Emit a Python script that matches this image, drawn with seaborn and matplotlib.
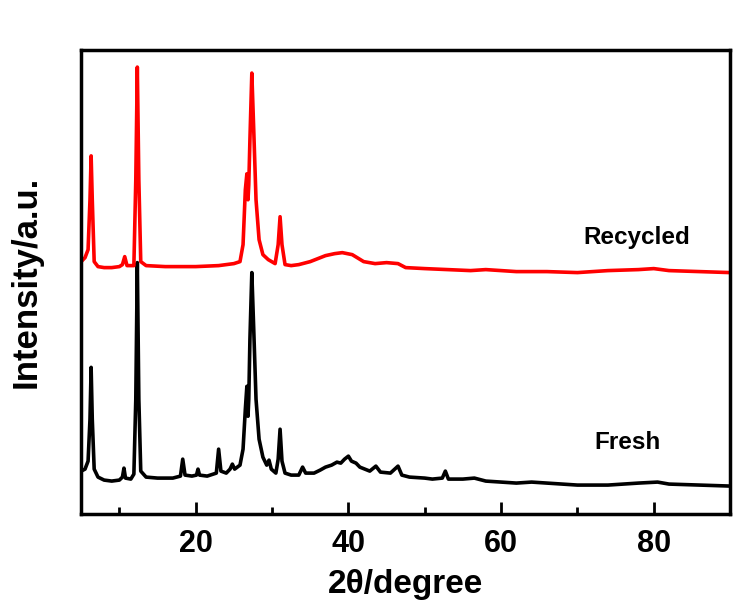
import pandas as pd

import matplotlib
matplotlib.use('AGG')
import matplotlib.pyplot as plt
from matplotlib.ticker import MultipleLocator
import seaborn as sns

sns.set_style("white", rc={"text.color": "black",
                           "axes.labelcolor": "black",
                           "xtick.color": "black",
                           "axes.edgecolor": "black"})
plt.rcParams['font.family'] = ['Liberation Sans', 'DejaVu Sans']
plt.rcParams['font.weight'] = 'bold'

# 2theta (degree) and intensity (a.u.)
fresh_2theta = [5.0, 5.5, 5.9, 6.15, 6.3, 6.45, 6.7, 7.2, 8, 9, 10, 10.4, 10.6, 10.8,
                11.5, 11.9, 12.15, 12.35, 12.55, 12.8, 13.5, 15, 17, 18.0, 18.3, 18.6,
                19.5, 20.1, 20.3, 20.5, 21.5, 22.7, 23.0, 23.3, 24.0, 24.5, 24.8, 25.1,
                25.8, 26.2, 26.5, 26.7, 26.85, 26.95, 27.1, 27.35, 27.6, 27.9, 28.3, 28.8,
                29.3, 29.6, 29.9, 30.5, 30.8, 31.05, 31.3, 31.7, 32.5, 33.5, 34.0, 34.4,
                35.5, 36.3, 37, 37.8, 38.5, 39.0, 39.5, 40.0, 40.4, 41.0, 41.5, 42.8,
                43.6, 44.2, 45.5, 46.5, 47, 48, 50, 51, 52.3, 52.7, 53.1, 55, 56.5, 58,
                60, 62, 64, 66, 70, 74, 78, 80.5, 82, 86, 90]
fresh_int = [43, 45, 53, 95, 147, 95, 45, 37, 34, 33, 34, 37, 46, 36,
             35, 40, 115, 252, 115, 43, 37, 36, 36, 38, 55, 39,
             38, 39, 45, 39, 38, 41, 65, 43, 41, 45, 50, 45,
             49, 65, 105, 128, 98, 115, 175, 242, 185, 115, 75, 57,
             49, 54, 45, 41, 55, 85, 53, 41, 39, 39, 47, 41,
             41, 44, 47, 49, 52, 51, 55, 58, 53, 51, 47, 43,
             48, 42, 41, 48, 39, 37, 36, 35, 36, 43, 35, 35, 36, 33,
             32, 31, 32, 31, 29, 29, 31, 32, 30, 29, 28]

recycled_2theta = [5.0, 5.5, 5.9, 6.15, 6.3, 6.45, 6.7, 7.2, 8, 9, 10, 10.4, 10.7, 11.0,
                   11.9, 12.15, 12.35, 12.55, 12.8, 13.5, 16, 20, 23, 25, 25.8, 26.2,
                   26.5, 26.7, 26.85, 26.95, 27.1, 27.35, 27.6, 27.9, 28.3, 28.8, 29.5,
                   30.4, 30.8, 31.05, 31.3, 31.7, 32.5, 33.5, 35, 37, 38.2, 39.2, 40.5,
                   42, 43.5, 45, 46.5, 47.5, 50, 53, 56, 58, 62, 66, 70, 74, 78, 80, 82,
                   86, 90]
recycled_int = [253, 257, 265, 315, 359, 315, 253, 248, 247, 247, 248, 250, 258, 249,
                249, 335, 448, 335, 253, 249, 248, 248, 249, 251, 253, 270,
                325, 341, 315, 330, 375, 442, 385, 315, 275, 260, 255,
                251, 270, 298, 270, 250, 249, 250, 253, 259, 261, 262, 260,
                253, 251, 252, 251, 247, 246, 245, 244, 245, 243, 243, 242, 244, 245,
                246, 244, 243, 242]

labels = ["Fresh", "Recycled"]
colors = ["black", "red"]

df = pd.concat([
    pd.DataFrame({"two_theta": fresh_2theta, "intensity": fresh_int, "sample": "Fresh"}),
    pd.DataFrame({"two_theta": recycled_2theta, "intensity": recycled_int, "sample": "Recycled"}),
])

fig = plt.figure(figsize=(7.45, 6.04), dpi=100)
ax = fig.add_axes([0.109, 0.149, 0.871, 0.768])

for name, c in zip(labels, colors):
    sub = df[df["sample"] == name]
    sns.lineplot(data=sub, x="two_theta", y="intensity", color=c, lw=2.6,
                 estimator=None, sort=False, ax=ax)

ax.set_xlim(5, 90)
ax.set_ylim(0, 465)
ax.xaxis.set_major_locator(MultipleLocator(20))
ax.xaxis.set_minor_locator(MultipleLocator(10))
ax.tick_params(axis='x', which='major', direction='in', length=9, width=2,
               labelsize=22, pad=11, bottom=True, top=False)
ax.tick_params(axis='x', which='minor', direction='in', length=5, width=2,
               bottom=True, top=False)
ax.set_yticks([])
for s in ax.spines.values():
    s.set_linewidth(2.5)
    s.set_color("black")

ax.set_xlabel("2θ/degree", fontsize=24, fontweight='bold', labelpad=7)
ax.set_ylabel("Intensity/a.u.", fontsize=25, fontweight='bold', labelpad=28)

ax.text(77.8, 277, "Recycled", fontsize=17.5, fontweight='bold', ha='center', va='center')
ax.text(76.6, 72, "Fresh", fontsize=17.5, fontweight='bold', ha='center', va='center')

fig.savefig("out.png", dpi=100)
